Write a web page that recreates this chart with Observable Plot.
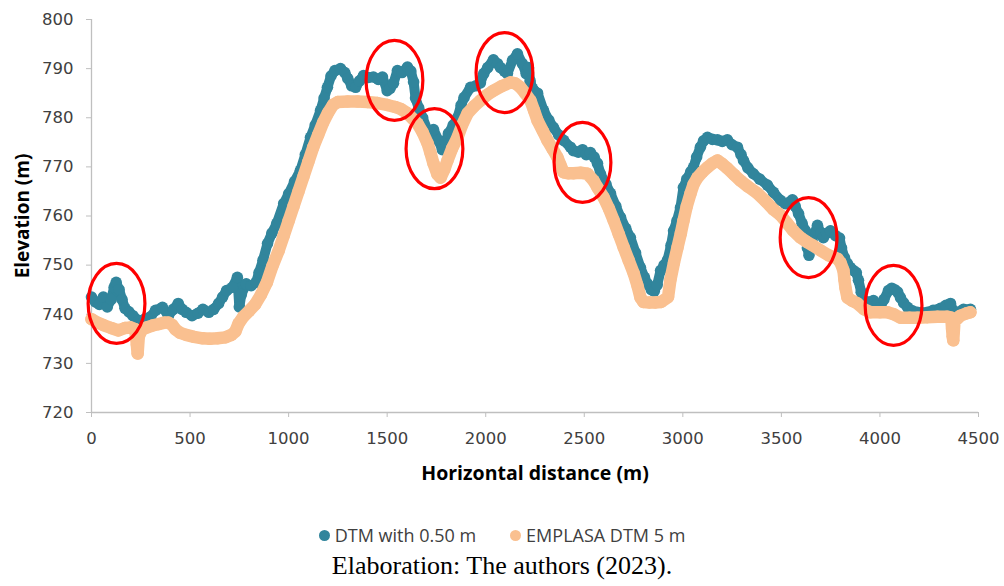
<!DOCTYPE html>
<html><head><meta charset="utf-8">
<script src="https://cdn.jsdelivr.net/npm/d3@7"></script>
<script src="https://cdn.jsdelivr.net/npm/@observablehq/plot@0.6"></script>
<style>
body{margin:0;background:#fff;}
#wrap{position:relative;width:1004px;height:586px;overflow:hidden;}
#chart{position:absolute;left:0;top:0;}
#legend{position:absolute;left:0;width:1004px;top:523px;height:24px;display:flex;justify-content:center;align-items:center;font-family:"Open Sans",sans-serif;font-size:18px;color:#404040;}
#legend .item{display:flex;align-items:center;margin:0 17px;}
#legend .sw{width:11px;height:11px;border-radius:50%;margin-right:5px;}
#caption{position:absolute;left:0;width:1004px;top:551px;text-align:center;font-family:"Liberation Serif","Times New Roman",serif;font-size:26px;color:#000;}
svg g[aria-label="x-axis"] line, svg g[aria-label="y-axis"] line,
svg g[aria-label="x-axis tick"] path, svg g[aria-label="y-axis tick"] path,
svg g[aria-label="x-axis tick"], svg g[aria-label="y-axis tick"]{stroke:#bfbfbf;}
svg g[aria-label="x-axis"] path.domain, svg g[aria-label="y-axis"] path.domain{display:none;}
</style></head><body>
<div id="wrap"><div id="chart"></div>
<div id="legend"></div>
<div id="caption">Elaboration: The authors (2023).</div></div>
<script>
// Series 1: DTM with 0.50 m
const distTeal = [0,20,40,60,80,100,115,125,140,155,170,190,210,240,270,300,325,360,390,415,440,460,480,510,540,565,595,620,645,665,685,715,740,750,760,785,810,835,850,870,893,915,940,975,1000,1030,1060,1085,1111,1135,1162,1180,1197,1215,1235,1263,1285,1300,1320,1340,1360,1380,1405,1430,1455,1476,1500,1515,1532,1552,1575,1603,1620,1634,1644,1660,1680,1705,1720,1735,1760,1780,1795,1811,1835,1857,1875,1890,1923,1950,1973,1990,2010,2039,2060,2075,2095,2110,2136,2161,2186,2205,2217,2225,2237,2263,2293,2320,2344,2370,2395,2430,2445,2470,2491,2510,2531,2550,2567,2582,2610,2633,2660,2684,2710,2734,2760,2785,2805,2821,2840,2855,2870,2887,2905,2922,2940,2953,2970,2988,3003,3020,3040,3054,3070,3089,3105,3125,3150,3176,3200,3226,3250,3277,3295,3308,3330,3358,3390,3429,3460,3495,3520,3556,3570,3587,3605,3622,3632,3640,3655,3683,3700,3713,3730,3749,3775,3795,3805,3820,3835,3850,3866,3880,3891,3905,3917,3940,3967,3985,4003,4020,4043,4060,4075,4090,4104,4120,4140,4165,4190,4215,4241,4270,4307,4335,4358,4375,4393,4424,4459];
const elevTeal = [743.5,742.5,742,743.5,741.5,743,745.5,746.5,745,743,741.2,740.5,739.7,738.7,739,739.5,740.8,741.4,739.7,741,742.2,741,740.4,739.7,740.2,741,740.4,741,742.2,743.5,744.8,745.5,747.5,741.5,744,746.2,745.8,746.5,748.5,751,754.4,756.5,758.5,762.5,764.5,767,769.3,772.5,776,778.5,781.5,784,786.2,788.5,789.6,790,789.2,788,786.5,786.2,787.5,788.6,788.2,788.3,787.8,788.3,785.5,786,787,789.6,789.2,790.3,789.5,787.3,784,782,780,777.4,776.5,777.6,775.4,773.5,775,776.8,778.5,780,782.5,784.1,786.2,786.5,787.1,789,790.2,791.8,791,790.2,789.5,789,791.7,793,791,789,790.2,787.5,786,785,781.5,779.5,778,776.5,775.4,774,773.3,773,773.5,772.5,772.9,772,770.7,768.6,766.5,764.6,762,759.7,757.5,755.6,752.5,749.5,747.5,746.2,745,744.7,746,748.9,750,751,754,757,759,761.7,765.8,767.5,769,769.9,772,774,775.3,776,775.6,775.5,775.2,775.5,774.5,774,772.5,771.3,769.8,768.6,767.5,766.3,764.8,763.2,762.5,763.3,762,760.5,758.5,757,753.5,752,755,758.1,756.5,755.6,756.5,757,756,755.5,753.5,751.5,750.3,749.5,748.9,748.5,746.9,744.5,742.8,742.5,742.8,742,741.4,743,744.8,745.3,745,744.5,743.4,742.3,741.4,740.7,740.4,740.3,740.4,740.8,741.2,741.8,742.2,740.4,740.4,741,741];
// Series 2: EMPLASA DTM 5 m
const distPeach = [0,30,60,100,137,170,200,220,226,230,234,240,255,280,309,340,370,390,410,426,450,480,520,563,600,640,680,710,730,746,770,800,830,860,890,918,950,975,1000,1025,1050,1075,1100,1125,1150,1175,1200,1225,1250,1300,1350,1400,1450,1500,1540,1568,1600,1630,1654,1680,1705,1720,1735,1755,1771,1790,1806,1830,1857,1880,1908,1940,1973,2005,2039,2080,2126,2150,2176,2200,2227,2245,2263,2290,2313,2340,2364,2380,2395,2420,2445,2481,2516,2547,2567,2598,2625,2649,2675,2700,2725,2751,2770,2785,2800,2830,2860,2890,2925,2937,2955,2973,2990,3003,3020,3039,3055,3074,3100,3125,3150,3176,3200,3226,3260,3292,3330,3379,3420,3460,3495,3530,3560,3597,3630,3660,3698,3740,3785,3800,3815,3820,3825,3835,3860,3886,3920,3952,4000,4038,4070,4104,4150,4190,4240,4292,4340,4362,4366,4369,4372,4378,4408,4440,4459];
const elevPeach = [739,738.3,737.8,737.2,736.7,737.2,737.3,737,735.5,733.8,732,735.5,736.8,737.3,737.7,738,738.3,738.3,737.8,736.9,736.2,735.8,735.4,735.1,735,735.1,735.3,735.8,736.5,738.1,739.5,740.7,742,744,746.5,749.8,753,756,759,762,765,768,771,774,776.5,779,781,782.6,783.2,783.3,783.3,783.2,783,782.6,782.2,781.8,781,779.8,778.8,777,774.8,772.8,770.7,768.5,767.8,769.5,771.3,773.8,776,778.5,780.9,782.3,783.5,784.6,785.5,786.4,787.2,787,786.2,785,783.5,781.5,779.4,777.3,775.4,773.6,771.9,770.3,768.9,768.7,768.7,768.8,768.6,767.2,765.8,763.8,761.5,759.1,756.3,753.6,751,748.3,745.8,743.4,742.5,742.4,742.4,742.5,743.5,747,750.5,753.6,756.5,759,762,764.6,766.5,767.8,769,769.9,770.7,771.3,770.6,769.7,768.4,767.2,766,764.6,763,761.3,760.2,758.5,757,755.6,754.7,754,753,752,751.3,750.5,748.9,747,745.4,743.4,742.7,742.2,741,740.4,740.4,740.4,740,739.3,739.3,739.3,739.4,739.5,739.5,739.3,737,735.5,734.7,738.5,739.7,740.2,740.4];
// Red ellipse annotations (centres)
const ellipseX = [127,1537,1740,2095,2491,3638,4069];
const ellipseY = [742.2,787.6,773.7,789.2,770.9,755.6,741.8];
// Axes
const xTicks = [0,500,1000,1500,2000,2500,3000,3500,4000,4500];
const yTicks = [720,730,740,750,760,770,780,790,800];
const seriesNames = ["DTM with 0.50 m","EMPLASA DTM 5 m"];
const seriesColors = ["#31859C","#FAC090"];

const teal = distTeal.map((d,i)=>({x:d,y:elevTeal[i]}));
const peach = distPeach.map((d,i)=>({x:d,y:elevPeach[i]}));
const ellipses = ellipseX.map((d,i)=>({x:d,y:ellipseY[i]}));

const ellipseSymbol = {
  draw(context, size) {
    const ry = Math.sqrt(size/Math.PI), rx = ry*0.71, k = 0.5522848;
    context.moveTo(0,-ry);
    context.bezierCurveTo(k*rx,-ry,rx,-k*ry,rx,0);
    context.bezierCurveTo(rx,k*ry,k*rx,ry,0,ry);
    context.bezierCurveTo(-k*rx,ry,-rx,k*ry,-rx,0);
    context.bezierCurveTo(-rx,-k*ry,-k*rx,-ry,0,-ry);
    context.closePath();
  }
};

const plot = Plot.plot({
  width: 1004, height: 505,
  marginLeft: 91, marginRight: 26, marginTop: 19, marginBottom: 93,
  style: {fontFamily: "'DejaVu Sans', sans-serif", fontSize: "16.5px", color: "#404040", background: "#fff", overflow: "visible"},
  x: {domain: [0,4500], ticks: xTicks, tickFormat: d => String(d), tickSize: 5, tickPadding: 15, label: null},
  y: {domain: [720,800], ticks: yTicks, tickFormat: d => String(d), tickSize: 5, tickPadding: 13, label: null},
  marks: [
    Plot.ruleX([0], {stroke: "#bfbfbf", strokeWidth: 1.3}),
    Plot.ruleY([720], {stroke: "#bfbfbf", strokeWidth: 1.3}),
    Plot.line(teal, {x: "x", y: "y", stroke: seriesColors[0], strokeWidth: 10, strokeLinejoin: "round", strokeLinecap: "round"}),
    Plot.dot(teal, {x: "x", y: "y", r: 5.8, fill: seriesColors[0]}),
    Plot.line(peach, {x: "x", y: "y", stroke: seriesColors[1], strokeWidth: 12.5, strokeLinejoin: "round", strokeLinecap: "round"}),
    Plot.dot(peach, {x: "x", y: "y", r: 6.2, fill: seriesColors[1]}),
    Plot.dot(ellipses, {x: "x", y: "y", r: 40, symbol: ellipseSymbol, fill: "none", stroke: "#FF0000", strokeWidth: 3.2}),
    Plot.text(["Horizontal distance (m)"], {frameAnchor: "bottom", textAnchor: "middle", dy: 67, fontWeight: "bold", fontSize: 19.5, fill: "#000", fontFamily: "'Open Sans', sans-serif"}),
    Plot.text(["Elevation (m)"], {frameAnchor: "left", textAnchor: "middle", dx: -69, rotate: -90, fontWeight: "bold", fontSize: 19, fill: "#000", fontFamily: "'Open Sans', sans-serif"})
  ]
});
document.getElementById("chart").appendChild(plot);

const legend = document.getElementById("legend");
seriesNames.forEach((name,i)=>{
  const item = document.createElement("div"); item.className = "item";
  const sw = document.createElement("span"); sw.className = "sw"; sw.style.background = seriesColors[i];
  const t = document.createElement("span"); t.textContent = name;
  item.appendChild(sw); item.appendChild(t); legend.appendChild(item);
});
</script></body></html>
